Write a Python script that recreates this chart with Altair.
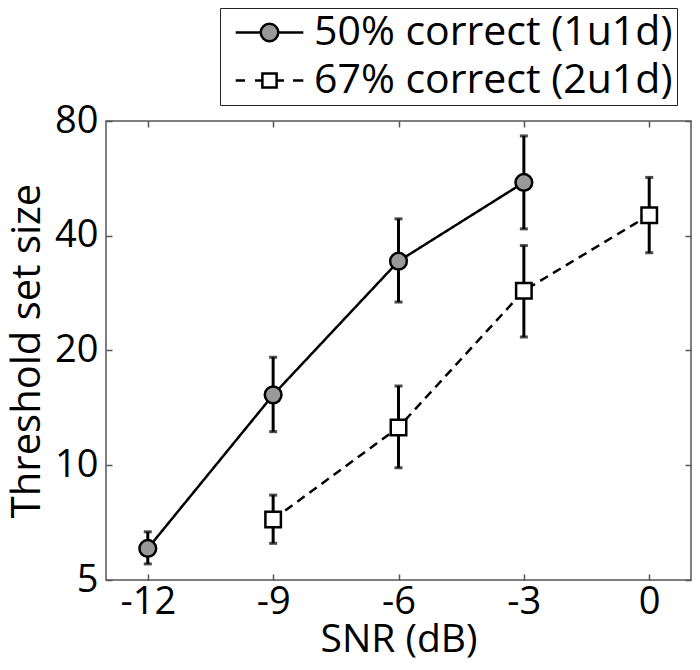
import altair as alt
import pandas as pd

# ---- data ----
series_names = ["50% correct (1u1d)", "67% correct (2u1d)"]
snr_50 = [-12, -9, -6, -3]
thr_50 = [6.05, 15.3, 34.3, 55.2]
lo_50 = [5.51, 12.25, 26.8, 41.7]
hi_50 = [6.69, 19.2, 44.3, 73.1]
snr_67 = [-9, -6, -3, 0]
thr_67 = [7.21, 12.57, 28.7, 45.3]
lo_67 = [6.24, 9.85, 21.7, 36.1]
hi_67 = [8.35, 16.14, 37.7, 56.9]
x_ticks = [-12, -9, -6, -3, 0]
y_ticks = [5, 10, 20, 40, 80]

rows = []
for name, xs, ys, los, his in [
    (series_names[0], snr_50, thr_50, lo_50, hi_50),
    (series_names[1], snr_67, thr_67, lo_67, hi_67),
]:
    for x, y, lo, hi in zip(xs, ys, los, his):
        rows.append({"series": name, "snr": x, "thr": y, "lo": lo, "hi": hi})
df = pd.DataFrame(rows)

W, H = 585, 459
FONT = "Open Sans"
AX = "#555555"

xscale = alt.Scale(domain=[-13, 1], nice=False, zero=False)
yscale = alt.Scale(type="log", domain=[5, 80], nice=False)

ax_x_main = alt.Axis(orient="bottom", values=x_ticks, title="SNR (dB)", ticks=False, tickSize=0,
                     domain=False, grid=False, labelFont=FONT, labelFontSize=38, labelPadding=3,
                     labelColor="black", labelExpr="'' + datum.value", labelFlush=False,
                     titleFont=FONT, titleFontSize=39, titleFontWeight="normal", titleColor="black",
                     titleX=W / 2, titleY=59, titleBaseline="middle", titleAlign="center")
ax_y_main = alt.Axis(orient="left", values=y_ticks, title="Threshold set size", ticks=False, tickSize=0,
                     domain=False, grid=False, labelFont=FONT, labelFontSize=38, labelPadding=8,
                     labelColor="black", labelExpr="'' + datum.value", labelFlush=False,
                     titleFont=FONT, titleFontSize=40, titleFontWeight="normal", titleColor="black",
                     titleX=-79, titleY=H / 2, titleAngle=270, titleBaseline="middle", titleAlign="center")


def tick_axis(orient, off, vals):
    # ticks only, moved onto the opposite edge so that they point into the plot
    return alt.Axis(orient=orient, offset=off, values=vals, labels=False, domain=False, grid=False,
                    ticks=True, tickSize=6, tickColor=AX, tickWidth=1.5, title=None)


base = alt.Chart(df)

dash_scale = alt.Scale(domain=series_names, range=[[1, 0], [9, 6]])

lines = base.mark_line(color="black", strokeWidth=2.5).encode(
    x=alt.X("snr:Q", scale=xscale, axis=ax_x_main),
    y=alt.Y("thr:Q", scale=yscale, axis=ax_y_main),
    strokeDash=alt.StrokeDash("series:N", scale=dash_scale, legend=None),
    detail="series:N",
)

bars = base.mark_rule(color="black", strokeWidth=3).encode(
    x=alt.X("snr:Q", scale=xscale, axis=None),
    y=alt.Y("lo:Q", scale=yscale, axis=None),
    y2="hi:Q",
)
caps_lo = base.mark_tick(color="black", orient="horizontal", size=8, thickness=3).encode(
    x=alt.X("snr:Q", scale=xscale, axis=None),
    y=alt.Y("lo:Q", scale=yscale, axis=None),
)
caps_hi = base.mark_tick(color="black", orient="horizontal", size=8, thickness=3).encode(
    x=alt.X("snr:Q", scale=xscale, axis=None),
    y=alt.Y("hi:Q", scale=yscale, axis=None),
)

points = base.mark_point(filled=False, stroke="black", strokeWidth=2.5, opacity=1).encode(
    x=alt.X("snr:Q", scale=xscale, axis=None),
    y=alt.Y("thr:Q", scale=yscale, axis=None),
    shape=alt.Shape("series:N", scale=alt.Scale(domain=series_names, range=["circle", "square"]), legend=None),
    fill=alt.Fill("series:N", scale=alt.Scale(domain=series_names, range=["#999999", "white"]), legend=None),
    size=alt.Size("series:N", scale=alt.Scale(domain=series_names, range=[280, 240]), legend=None),
)

# legend-only layer: custom symbols (line + marker) shown in the legend box
U = 19.0  # px per path unit (symbol size 38^2)


def p(v):
    return f"{v / U:.3f}"


path_circle = (f"M{p(-33.8)},0H{p(-8.8)} M{p(8.8)},0H{p(33.8)} "
               f"M{p(-8.8)},0A{p(8.8)},{p(8.8)} 0 1,1 {p(8.8)},0A{p(8.8)},{p(8.8)} 0 1,1 {p(-8.8)},0Z")
path_square = (f"M{p(-33.8)},0H{p(-24.5)} M{p(-14.5)},0H{p(-7.1)} M{p(7.1)},0H{p(14.5)} M{p(23.5)},0H{p(33.8)} "
               f"M{p(-7.1)},{p(-7.1)}H{p(7.1)}V{p(7.1)}H{p(-7.1)}Z")
leg = alt.Legend(title=None, orient="none", legendX=114, legendY=-113, symbolSize=38 * 38,
                 symbolStrokeWidth=2.5, symbolStrokeColor="black", symbolOpacity=1,
                 labelFont=FONT, labelFontSize=41, labelColor="black", labelOffset=24,
                 labelLimit=700, labelExpr="datum.label + '\u2009\u2009'",
                 padding=4, strokeColor="#222222", fillColor="white",
                 rowPadding=6, symbolOffset=25)
legend_layer = base.mark_point(filled=False, stroke="black", strokeWidth=2.5, size=0).encode(
    x=alt.X("snr:Q", scale=xscale, axis=None),
    y=alt.Y("thr:Q", scale=yscale, axis=None),
    shape=alt.Shape("series:N", scale=alt.Scale(domain=series_names, range=[path_circle, path_square]), legend=leg),
    fill=alt.Fill("series:N", scale=alt.Scale(domain=series_names, range=["#999999", "white"]), legend=leg),
    stroke=alt.Stroke("series:N", scale=alt.Scale(domain=series_names, range=["black", "black"]), legend=leg),
)

ticks_a = base.mark_point(opacity=0, size=0).encode(
    x=alt.X("snr:Q", scale=xscale, axis=tick_axis("top", -H, x_ticks)),
    y=alt.Y("thr:Q", scale=yscale, axis=tick_axis("right", -W, y_ticks)),
)
ticks_b = base.mark_point(opacity=0, size=0).encode(
    x=alt.X("snr:Q", scale=xscale, axis=tick_axis("bottom", -H, x_ticks)),
    y=alt.Y("thr:Q", scale=yscale, axis=tick_axis("left", -W, y_ticks)),
)

chart = alt.layer(lines, bars, caps_lo, caps_hi, points, legend_layer, ticks_a, ticks_b).resolve_axis(
    x="independent", y="independent"
).resolve_scale(
    shape="independent", fill="independent", size="independent", strokeDash="independent",
    stroke="independent"
).properties(
    width=W, height=H, autosize="none",
    padding={"left": 98, "top": 113, "right": 1, "bottom": 80},
).configure_view(
    stroke=AX, strokeWidth=1.5
)

chart.save("out.html", embed_options={"renderer": "svg", "actions": False})
